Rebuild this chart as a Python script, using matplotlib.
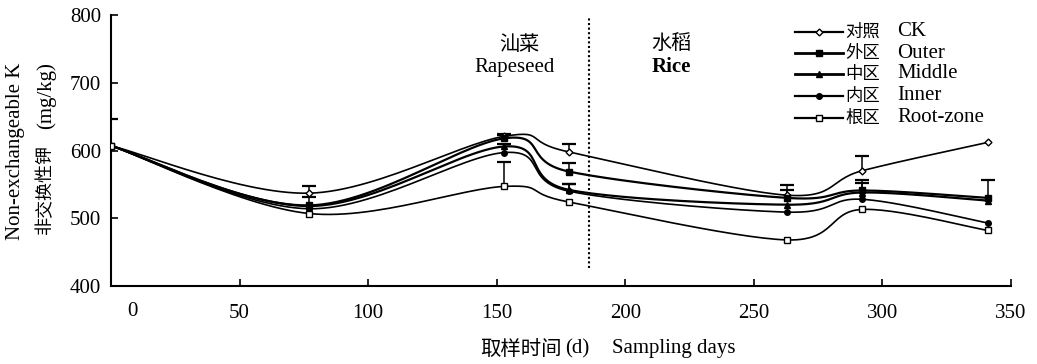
import numpy as np
import matplotlib
matplotlib.use("Agg")
import matplotlib.pyplot as plt
from matplotlib.lines import Line2D

plt.rcParams['font.family'] = ['Liberation Serif', 'Noto Sans CJK SC', 'DejaVu Sans']

# ---- data ----
days = [0, 77, 153, 178, 263, 292, 341]
ck     = [607, 537, 621, 598, 534, 570, 612]
outer  = [607, 519, 618, 569, 530, 541, 530]
middle = [607, 518, 606, 542, 520, 538, 526]
inner  = [607, 514, 597, 540, 509, 528, 493]
root   = [607, 507, 547, 524, 468, 513, 482]

ck_err     = [40, 10, 3, 12, 15, 22, 0]
outer_err  = [0, 12, 5, 12, 12, 15, 26]
middle_err = [0, 0, 4, 8, 0, 14, 0]
inner_err  = [0, 0, 0, 10, 0, 0, 0]
root_err   = [0, 0, 36, 0, 0, 0, 0]

labels_cn = ['对照', '外区', '中区', '内区', '根区']
labels_en = ['CK', 'Outer', 'Middle', 'Inner', 'Root-zone']
xticks = [50, 100, 150, 200, 250, 300, 350]
yticks = [400, 500, 600, 700, 800]
divider_day = 186

LAT = 15     # Latin font size
CJKF = ['Noto Sans CJK SC', 'DejaVu Sans']


def smooth(x, y, n=30):
    """Excel-style smoothed line (Catmull-Rom Bezier) through data points."""
    x = np.asarray(x, float); y = np.asarray(y, float)
    P = np.column_stack([x, y])
    out = [P[0]]
    for i in range(len(P) - 1):
        p0 = P[i - 1] if i > 0 else P[i]
        p1 = P[i]; p2 = P[i + 1]
        p3 = P[i + 2] if i + 2 < len(P) else P[i + 1]
        c1 = p1 + (p2 - p0) / 6.0
        c2 = p2 - (p3 - p1) / 6.0
        t = np.linspace(0, 1, n)[1:, None]
        seg = ((1 - t) ** 3) * p1 + 3 * ((1 - t) ** 2) * t * c1 + 3 * (1 - t) * t ** 2 * c2 + t ** 3 * p2
        out.extend(seg)
    out = np.array(out)
    return out[:, 0], out[:, 1]


W, H = 1037, 364
fig = plt.figure(figsize=(W / 100, H / 100), dpi=100)
ax = fig.add_axes([111 / W, 1 - 286 / H, (1011 - 111) / W, (286 - 15) / H])

def fx(px):
    return px / W

def fy(py):
    return 1 - py / H

series = [
    (ck, ck_err, 'D', 'white', 1.2, 3.5),
    (outer, outer_err, 's', 'black', 1.6, 4),
    (middle, middle_err, '^', 'black', 1.6, 4.5),
    (inner, inner_err, 'o', 'black', 1.2, 4),
    (root, root_err, 's', 'white', 1.2, 4),
]

for (vals, err, mk, mfc, lw, ms) in series:
    sx, sy = smooth(days, vals)
    ax.plot(sx, sy, color='black', lw=lw, zorder=2)
    ax.plot(days, vals, ls='none', marker=mk, mfc=mfc, mec='black', mew=1.0, ms=ms, zorder=4)
    for d, v, e in zip(days, vals, err):
        if e > 0:
            ax.vlines(d, v, v + e, color='black', lw=1.1, zorder=3)
            ax.plot([d], [v + e], marker='_', ms=10, mew=1.6, color='black', zorder=3)

ax.vlines(divider_day, 427, 795, colors='black', linestyles=(0, (1, 1.2)), lw=1.5)

ax.set_xlim(0, 350)
ax.set_ylim(400, 800)
ax.set_xticks(xticks)
ax.set_yticks(yticks)
ax.tick_params(direction='in', length=5, width=1.2, labelsize=LAT, colors='black')
ax.tick_params(axis='x', pad=13)
ax.tick_params(axis='y', pad=7)
for s in ['top', 'right']:
    ax.spines[s].set_visible(False)
for s in ['left', 'bottom']:
    ax.spines[s].set_linewidth(1.5)

# "0" label shown slightly right of the spine as in the reference
fig.text(fx(132), fy(311), '0', ha='center', va='center', fontsize=LAT)

# crop annotations
ax.text(159, 756, '汕菜', ha='center', va='center', fontsize=14.5, family=CJKF)
ax.text(157, 723, 'Rapeseed', ha='center', va='center', fontsize=LAT)
ax.text(218, 756, '水稻', ha='center', va='center', fontsize=14.5, family=CJKF)
ax.text(218, 723, 'Rice', ha='center', va='center', fontsize=LAT, fontweight='bold')

# y label
fig.text(fx(16), fy(151), 'Non-exchangeable K', rotation=90, ha='center', va='center', fontsize=LAT)
fig.text(fx(45), fy(234), '非交换性钾', rotation=90, ha='center', va='bottom', fontsize=13, family=CJKF)
fig.text(fx(46), fy(62), '(mg/kg)', rotation=90, ha='center', va='top', fontsize=LAT)

# x label
fig.text(fx(480), fy(349), '取样时间', ha='left', va='center', fontsize=14.7, family=CJKF)
fig.text(fx(589), fy(349), '(d)', ha='right', va='center', fontsize=LAT)
fig.text(fx(612), fy(349), 'Sampling days', ha='left', va='center', fontsize=LAT)

# manual legend
rows_y = [32, 53, 74, 96, 118]
for (vals, err, mk, mfc, lw, ms), cn, en, ry in zip(series, labels_cn, labels_en, rows_y):
    fig.add_artist(Line2D([fx(795), fx(843)], [fy(ry), fy(ry)], color='black', lw=lw + 0.4,
                          transform=fig.transFigure))
    fig.add_artist(Line2D([fx(819)], [fy(ry)], marker=mk, mfc=mfc, mec='black', mew=1.0, ms=ms,
                          ls='none', transform=fig.transFigure))
    fig.text(fx(845), fy(ry), cn, ha='left', va='center', fontsize=12.5, family=CJKF)
    fig.text(fx(897), fy(ry), en, ha='left', va='center', fontsize=LAT)

fig.savefig('out.png', dpi=100)
